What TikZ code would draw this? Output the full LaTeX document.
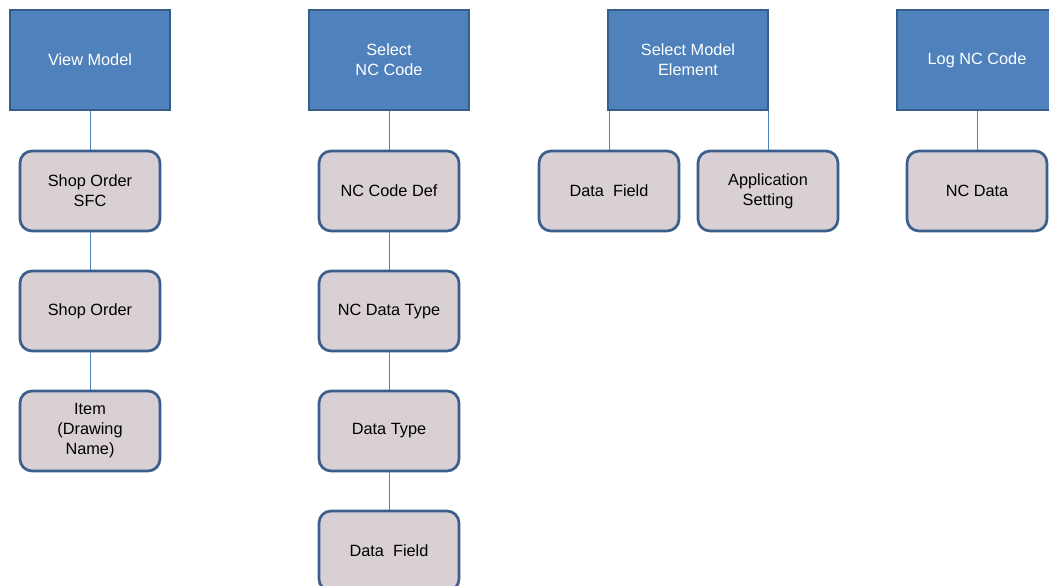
\documentclass[tikz,border=0pt]{standalone}
\usepackage{fontspec}
\setmainfont{Liberation Sans}
\definecolor{topfill}{RGB}{79,129,189}
\definecolor{topline}{RGB}{56,93,138}
\definecolor{subfill}{RGB}{217,208,213}
\definecolor{subline}{RGB}{59,94,140}
\definecolor{conn}{RGB}{79,129,189}
\tikzset{
  topbox/.style={draw=topline, line width=2pt, fill=topfill, minimum width=160pt, minimum height=100pt, inner sep=0pt, align=center, text=white, font=\fontsize{16.3}{20}\selectfont},
  subbox/.style={draw=subline, line width=2.7pt, fill=subfill, rounded corners=12pt, minimum width=140pt, minimum height=80pt, inner sep=0pt, align=center, text=black, font=\fontsize{16.3}{20}\selectfont},
  link/.style={draw=conn, line width=0.9pt}
}
\begin{document}
\begin{tikzpicture}[x=1pt,y=-1pt]
\useasboundingbox (0,0) rectangle (1049,586);
\clip (0,0) rectangle (1049,586);
\node[topbox] (vm) at (90,60) {View Model};
\node[topbox] (snc) at (389,60) {Select\\NC Code};
\node[topbox] (sme) at (688,60) {Select Model\\Element};
\node[topbox] (lnc) at (977,60) {Log NC Code};

\node[subbox] (sosfc) at (90,191) {Shop Order\\SFC};
\node[subbox] (so) at (90,311) {Shop Order};
\node[subbox] (item) at (90,431) {Item\\(Drawing\\Name)};

\node[subbox] (ncdef) at (389,191) {NC Code Def};
\node[subbox] (ncdt) at (389,311) {NC Data Type};
\node[subbox] (dt) at (389,431) {Data Type};
\node[subbox] (df) at (389,551) {Data~~Field};

\node[subbox] (df2) at (609,191) {Data~~Field};
\node[subbox] (as) at (768,191) {Application\\Setting};

\node[subbox] (ncd) at (977,191) {NC Data};

\draw[link] (vm.south) -- (sosfc.north);
\draw[link] (sosfc.south) -- (so.north);
\draw[link] (so.south) -- (item.north);

\draw[link] (snc.south) -- (ncdef.north);
\draw[link] (ncdef.south) -- (ncdt.north);
\draw[link] (ncdt.south) -- (dt.north);
\draw[link] (dt.south) -- (df.north);

\draw[link] (df2.north |- sme.south) -- (df2.north);
\draw[link] (as.north |- sme.south) -- (as.north);

\draw[link] (lnc.south) -- (ncd.north);
\end{tikzpicture}
\end{document}
